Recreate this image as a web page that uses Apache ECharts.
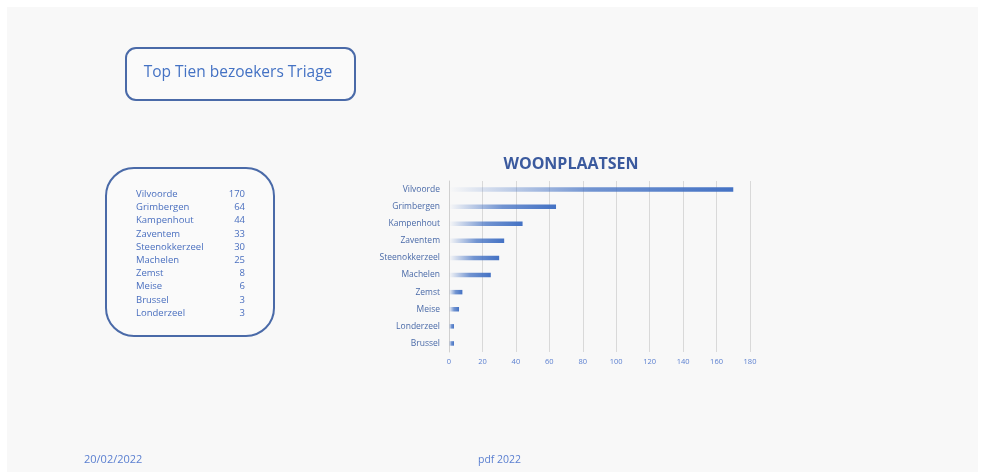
<!DOCTYPE html>
<html><head><meta charset="utf-8">
<script src="https://cdn.jsdelivr.net/npm/echarts@6/dist/echarts.min.js"></script>
<style>html,body{margin:0;padding:0;background:#fff}#c{width:983px;height:472px}</style>
</head><body><div id="c"></div>
<script>
const categories = ['Vilvoorde','Grimbergen','Kampenhout','Zaventem','Steenokkerzeel','Machelen','Zemst','Meise','Londerzeel','Brussel'];
const values = [170, 64, 44, 33, 30, 25, 8, 6, 3, 3];
const tableNames = ['Vilvoorde','Grimbergen','Kampenhout','Zaventem','Steenokkerzeel','Machelen','Zemst','Meise','Brussel','Londerzeel'];
const tableValues = [170, 64, 44, 33, 30, 25, 8, 6, 3, 3];
const xTicks = [0,20,40,60,80,100,120,140,160,180];

const chart = echarts.init(document.getElementById('c'), null, {renderer:'canvas'});
const txtColor = '#4a6fbf';
const graphics = [
  {type:'rect', shape:{x:7,y:7,width:971,height:465}, style:{fill:'#f8f8f8'}, z:-10},
  {type:'rect', shape:{x:126,y:48,width:229,height:52,r:10}, style:{fill:'#fafafa',stroke:'#4a6aa8',lineWidth:2}},
  {type:'text', x:238, y:73, style:{text:'Top Tien bezoekers Triage', fill:'#4472c4', font:'500 15.5px "Open Sans", sans-serif', align:'center', verticalAlign:'middle'}},
  {type:'rect', shape:{x:106,y:168,width:168,height:168,r:28}, style:{fill:'#fafafa',stroke:'#4a6aa8',lineWidth:2}},
  {type:'text', x:84, y:460, style:{text:'20/02/2022', fill:'#5a7fd0', font:'11px "Open Sans", sans-serif', verticalAlign:'middle'}},
  {type:'text', x:478, y:460, style:{text:'pdf 2022', fill:'#5a7fd0', font:'10.5px "Open Sans", sans-serif', verticalAlign:'middle'}}
];
tableNames.forEach((n,i)=>{
  const y = 194.3 + i*13.2;
  graphics.push({type:'text', x:136, y:y, style:{text:n, fill:txtColor, font:'9.5px "Open Sans", sans-serif', verticalAlign:'middle'}});
  graphics.push({type:'text', x:245, y:y, style:{text:String(tableValues[i]), fill:txtColor, font:'9.5px "Open Sans", sans-serif', align:'right', verticalAlign:'middle'}});
});

chart.setOption({
  animation:false,
  backgroundColor:'#ffffff',
  title:{text:'WOONPLAATSEN', left:566, top:151, textAlign:'center',
    textStyle:{color:'#3b5a9e', fontSize:16, fontWeight:'bold', fontFamily:'"Open Sans", sans-serif'}},
  grid:{left:449, right:233, top:181, bottom:120, containLabel:false},
  xAxis:{type:'value', min:0, max:180, interval:20,
    axisLine:{show:false}, axisTick:{show:false},
    axisLabel:{color:'#5a7fd0', fontSize:7.5, margin:6, fontFamily:'"Open Sans", sans-serif'},
    splitLine:{lineStyle:{color:'#d9d9d9', width:1}}},
  yAxis:{type:'category', data:categories, inverse:true,
    axisLine:{show:true, lineStyle:{color:'#d0d0d0'}}, axisTick:{show:false},
    axisLabel:{color:'#4a6aa8', fontSize:8.5, margin:9, fontFamily:'"Open Sans", sans-serif'}},
  series:[{type:'bar', data:values, barWidth:4.5,
    itemStyle:{color:new echarts.graphic.LinearGradient(0,0,1,0,[
      {offset:0,color:'rgba(68,114,196,0)'},
      {offset:0.5,color:'rgba(68,114,196,0.75)'},
      {offset:1,color:'#4472c4'}])}}],
  graphic:graphics
});
</script></body></html>
